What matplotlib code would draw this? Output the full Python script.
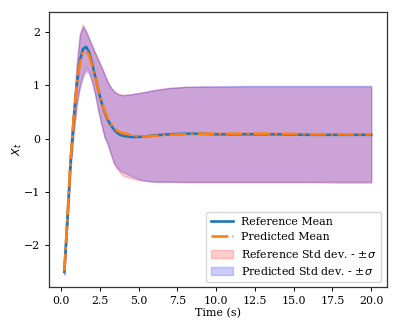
import numpy as np
import matplotlib
matplotlib.use("Agg")
import matplotlib.pyplot as plt

plt.rcParams['font.family'] = ['DejaVu Serif']
plt.rcParams['mathtext.fontset'] = 'dejavusans'

# time samples
t = [0.2, 0.4, 0.6, 0.8, 1.0, 1.2, 1.4, 1.6, 1.8, 2.0, 2.2, 2.4, 2.6, 2.8, 3.0,
     3.2, 3.4, 3.6, 3.8, 4.0, 4.5, 5.0, 5.5, 6.0, 7.0, 8.0, 9.0, 10.0, 12.0,
     14.0, 16.0, 18.0, 20.0]

ref_mean = [-2.5, -1.5, -0.45, 0.35, 1.0, 1.45, 1.68, 1.72, 1.62, 1.4, 1.15,
            0.9, 0.68, 0.5, 0.35, 0.25, 0.17, 0.11, 0.07, 0.05, 0.03, 0.03,
            0.04, 0.06, 0.08, 0.09, 0.09, 0.08, 0.08, 0.08, 0.07, 0.07, 0.07]

pred_mean = [-2.48, -1.48, -0.42, 0.38, 1.0, 1.4, 1.62, 1.65, 1.56, 1.36, 1.13,
             0.9, 0.7, 0.52, 0.38, 0.28, 0.2, 0.15, 0.12, 0.1, 0.07, 0.04,
             0.04, 0.05, 0.07, 0.08, 0.09, 0.09, 0.09, 0.09, 0.08, 0.08, 0.08]

ref_upper = [-2.45, -1.42, -0.35, 0.6, 1.4, 1.97, 2.14, 2.02, 1.88, 1.74, 1.6,
             1.47, 1.34, 1.2, 1.06, 0.96, 0.89, 0.85, 0.83, 0.82, 0.83, 0.86,
             0.88, 0.91, 0.95, 0.97, 0.97, 0.97, 0.97, 0.97, 0.97, 0.97, 0.97]
ref_lower = [-2.55, -1.58, -0.55, 0.12, 0.68, 1.0, 1.22, 1.33, 1.26, 1.06, 0.82,
             0.52, 0.26, 0.02, -0.12, -0.3, -0.47, -0.57, -0.64, -0.7, -0.74,
             -0.78, -0.8, -0.81, -0.81, -0.82, -0.82, -0.82, -0.82, -0.82, -0.82,
             -0.83, -0.83]

pred_upper = [-2.45, -1.42, -0.35, 0.6, 1.38, 1.94, 2.1, 2.0, 1.87, 1.73, 1.6,
              1.47, 1.34, 1.2, 1.06, 0.96, 0.89, 0.84, 0.82, 0.81, 0.83, 0.85,
              0.88, 0.91, 0.95, 0.97, 0.98, 0.98, 0.99, 0.99, 0.99, 0.99, 0.99]
pred_lower = [-2.55, -1.58, -0.55, 0.1, 0.62, 0.95, 1.15, 1.27, 1.22, 1.04, 0.8,
              0.5, 0.25, 0.02, -0.1, -0.28, -0.45, -0.54, -0.6, -0.63, -0.7,
              -0.76, -0.79, -0.81, -0.81, -0.81, -0.81, -0.81, -0.81, -0.81, -0.81,
              -0.81, -0.81]

fig = plt.figure(figsize=(3.99, 3.32), dpi=100)
ax = fig.add_axes([0.1228, 0.1355, 0.846, 0.8285])

fs = 7.9
ax.plot(t, ref_mean, color='C0', lw=1.9, label='Reference Mean')
ax.plot(t, pred_mean, color='C1', lw=1.9, ls='-.', label='Predicted Mean')
ax.fill_between(t, ref_lower, ref_upper, color='red', alpha=0.2,
                label=r'Reference Std dev. - $\pm\sigma$')
ax.fill_between(t, pred_lower, pred_upper, color='blue', alpha=0.2,
                label=r'Predicted Std dev. - $\pm\sigma$')

ax.set_xticks(np.arange(0, 20.01, 2.5))
ax.set_yticks([-2, -1, 0, 1, 2])
ax.tick_params(labelsize=fs, length=3, width=0.7)
ax.set_xlabel('Time (s)', fontsize=fs, labelpad=1.5)
ax.set_ylabel('$X_t$', fontsize=fs, labelpad=-0.5)
ax.legend(loc='lower right', fontsize=fs)
for s in ax.spines.values():
    s.set_linewidth(0.9)
    s.set_color('0.2')

fig.savefig('out.png', dpi=100)
